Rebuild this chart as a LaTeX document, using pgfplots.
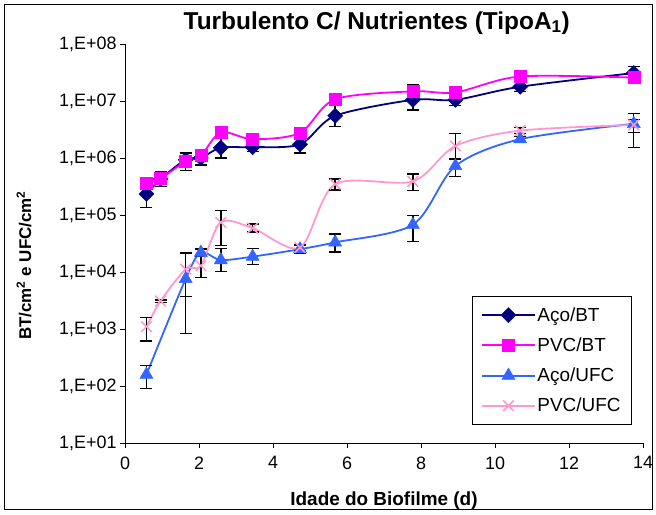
\documentclass[border=0pt]{standalone}
\usepackage{fontspec}
\setmainfont{Liberation Sans}
\usepackage{pgfplots}
\usepackage{pgfplotstable}
\pgfplotsset{compat=1.18}
\definecolor{navyc}{HTML}{000080}
\definecolor{magc}{HTML}{FF00FF}
\definecolor{bluec}{HTML}{3366FF}
\definecolor{pinkc}{HTML}{FF99CC}

% y values are log10 of counts, errors in log10 units
\pgfplotstableread{
x y ep em
0.58 5.37 0.24 0.24
0.96 5.63 0.13 0.13
1.64 5.97 0.12 0.19
2.05 6.00 0.08 0.12
2.59 6.18 0.18 0.18
3.45 6.19 0.08 0.08
4.73 6.24 0.15 0.15
5.68 6.74 0.19 0.19
7.78 7.02 0.18 0.18
8.93 7.02 0.10 0.10
10.68 7.25 0.08 0.08
13.75 7.49 0.12 0.12
}\acobt
\pgfplotstableread{
x y ep em
0.58 5.55 0.05 0.05
0.96 5.64 0.05 0.05
1.64 5.94 0.05 0.05
2.05 6.04 0.05 0.05
2.59 6.45 0.08 0.08
3.45 6.33 0.09 0.09
4.73 6.44 0.10 0.10
5.68 7.03 0.10 0.10
7.78 7.17 0.12 0.12
8.93 7.15 0.05 0.05
10.68 7.43 0.05 0.05
13.75 7.41 0.08 0.08
}\pvcbt
\pgfplotstableread{
x y ep em
0.58 2.20 0.16 0.24
1.64 3.88 0.45 0.96
2.05 4.34 0.06 0.06
2.59 4.21 0.20 0.20
3.45 4.27 0.14 0.14
4.73 4.40 0.07 0.07
5.68 4.52 0.15 0.17
7.78 4.83 0.16 0.29
8.93 5.86 0.12 0.18
10.68 6.33 0.05 0.05
13.75 6.60 0.18 0.42
}\acoufc
\pgfplotstableread{
x y ep em
0.58 3.04 0.16 0.25
0.96 3.49 0.02 0.02
1.64 4.05 0.28 0.48
2.05 4.11 0.29 0.21
2.59 4.87 0.21 0.41
3.45 4.77 0.07 0.07
4.73 4.43 0.05 0.05
5.68 5.54 0.09 0.10
7.78 5.59 0.13 0.16
8.93 6.21 0.22 0.22
10.68 6.48 0.05 0.05
13.75 6.58 0.10 0.13
}\pvcufc

\begin{document}
\begin{tikzpicture}[x=1bp,y=1bp]
\begin{axis}[
  at={(0,0)}, anchor=south west,
  scale only axis, width=518bp, height=399bp,
  xmin=0, xmax=14, ymin=1, ymax=8,
  axis x line*=bottom, axis y line*=left,
  axis line style={black, line width=0.8bp},
  xtick={0,2,...,14}, ytick={1,2,3,4,5,6,7,8},
  yticklabels={{1,E+01},{1,E+02},{1,E+03},{1,E+04},{1,E+05},{1,E+06},{1,E+07},{1,E+08}},
  /pgf/number format/assume math mode=true,
  tick align=outside, major tick length=5bp,
  tick style={black, line width=0.8bp},
  ticklabel style={font=\fontsize{18}{20}\selectfont},
  xticklabel style={yshift=-5bp},
  title={Turbulento C/ Nutrientes (TipoA\textsubscript{1})},
  title style={font=\bfseries\fontsize{24.5}{26}\selectfont, at={(axis description cs:0.486,1.022)}, anchor=base},
  xlabel={Idade do Biofilme (d)},
  ylabel={BT/cm\textsuperscript{2} e UFC/cm\textsuperscript{2}},
  xlabel style={font=\bfseries\fontsize{19}{21}\selectfont, at={(axis description cs:0.5,0)}, anchor=base, yshift=-62bp},
  ylabel style={font=\bfseries\fontsize{17}{19}\selectfont, at={(axis description cs:-0.195,0.445)}, anchor=center, rotate=0},
  legend cell align=left,
  legend style={at={(axis description cs:0.67,0.368)}, anchor=north west, draw=black, line width=0.8bp, fill=white,
    font=\fontsize{19}{21}\selectfont, row sep=11bp, inner xsep=9bp, inner ysep=9bp},
  legend image code/.code={\draw[mark repeat=2,mark phase=2,#1,line width=2bp] plot coordinates {(0bp,0bp) (26bp,0bp) (52bp,0bp)};},
  error bars/error bar style={black, line width=1.4bp, solid},
  error bars/error mark options={rotate=90, black, mark size=6bp, line width=1.4bp},
]
\addplot[navyc, line width=1.8bp, smooth, tension=0.5, mark=square*, mark size=5.3bp, mark options={rotate=45, fill=navyc, draw=navyc, line width=0.5bp},
  error bars/.cd, y dir=both, y explicit]
  table[x=x, y=y, y error plus=ep, y error minus=em] {\acobt};
\addlegendentry{Aço/BT}
\addplot[magc, line width=1.8bp, smooth, tension=0.5, mark=square*, mark size=6bp, mark options={fill=magc, draw=magc, line width=0.5bp},
  error bars/.cd, y dir=both, y explicit]
  table[x=x, y=y, y error plus=ep, y error minus=em] {\pvcbt};
\addlegendentry{PVC/BT}
\addplot[bluec, line width=1.8bp, smooth, tension=0.5, mark=triangle*, mark size=7.5bp, mark options={fill=bluec, draw=bluec, line width=0.5bp},
  error bars/.cd, y dir=both, y explicit]
  table[x=x, y=y, y error plus=ep, y error minus=em] {\acoufc};
\addlegendentry{Aço/UFC}
\addplot[pinkc, line width=1.8bp, smooth, tension=0.5, mark=x, mark size=7.5bp, mark options={draw=pinkc, line width=1.5bp},
  error bars/.cd, y dir=both, y explicit]
  table[x=x, y=y, y error plus=ep, y error minus=em] {\pvcufc};
\addlegendentry{PVC/UFC}
\end{axis}
\draw[black, line width=1bp] (-120,-67) rectangle (527,438);
\pgfresetboundingbox
\useasboundingbox (-125,-72) rectangle (531,443);
\end{tikzpicture}
\end{document}
